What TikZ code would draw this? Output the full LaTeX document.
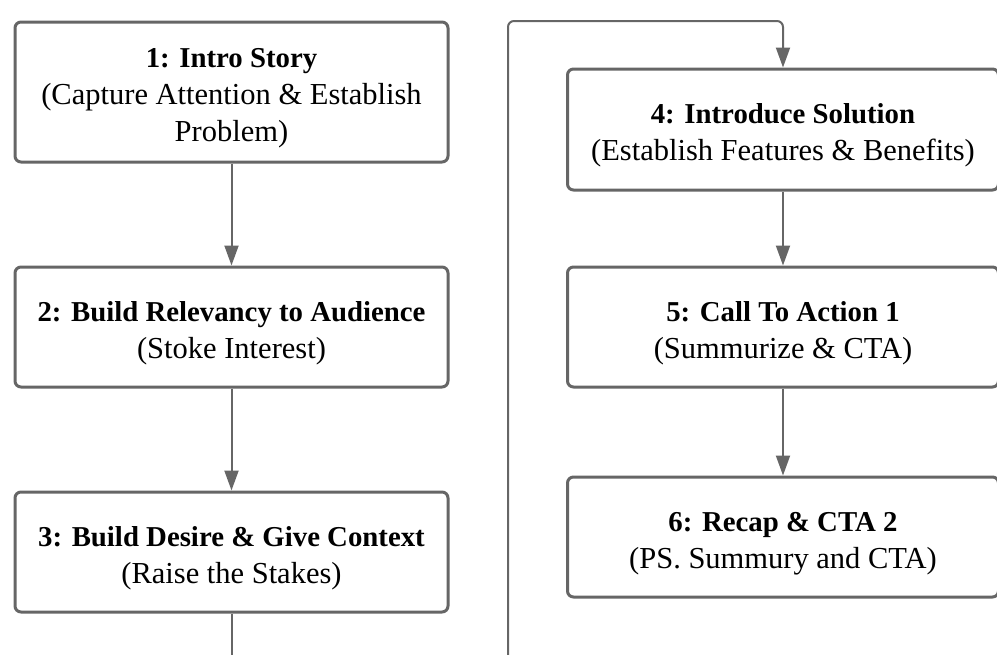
\documentclass[tikz,border=0pt]{standalone}
\usepackage{fontspec}
\setmainfont{Liberation Serif}
\usetikzlibrary{arrows.meta}
\definecolor{edge}{HTML}{666666}
\newcommand\boxhead[1]{\rule{0pt}{32pt}{\fontsize{28.8}{37}\selectfont\bfseries #1}}
\tikzset{
  stepbox/.style={draw=edge, line width=3pt, rounded corners=6pt, fill=white,
    minimum width=433pt, inner sep=0pt, align=center,
    font=\fontsize{30.5}{37}\selectfont},
  link/.style={draw=edge, line width=2pt},
  tip/.style={-{Triangle[length=20pt,width=14pt]}}
}
\begin{document}
\begin{tikzpicture}[x=1pt,y=-1pt]
\useasboundingbox (0,0) rectangle (997,654);
\clip (0,0) rectangle (997,654);
\node[stepbox, minimum height=140pt] (b1) at (231.5,92)
  {\boxhead{1: Intro Story}\\(Capture Attention \& Establish\\Problem)};
\node[stepbox, minimum height=120pt] (b2) at (231.5,327)
  {\boxhead{2: Build Relevancy to Audience}\\(Stoke Interest)};
\node[stepbox, minimum height=120pt] (b3) at (231.5,552)
  {\boxhead{3: Build Desire \& Give Context}\\(Raise the Stakes)};
\node[stepbox, minimum width=431pt, minimum height=121pt] (b4) at (783,129.5)
  {\boxhead{4: Introduce Solution}\\(Establish Features \& Benefits)};
\node[stepbox, minimum width=431pt, minimum height=120pt] (b5) at (783,327)
  {\boxhead{5: Call To Action 1}\\(Summurize \& CTA)};
\node[stepbox, minimum width=431pt, minimum height=120pt] (b6) at (783,537)
  {\boxhead{6: Recap \& CTA 2}\\(PS. Summury and CTA)};
\coordinate (bot) at (232,664);
\coordinate (up) at (508,664);
\coordinate (top) at (0,21);
\draw[link, tip] (b1.south) -- (b2.north);
\draw[link, tip] (b2.south) -- (b3.north);
\draw[link] (b3.south) -- (b3.south |- bot);
\draw[link, tip, rounded corners=6pt] (up) |- (b4.north |- top) -- (b4.north);
\draw[link, tip] (b4.south) -- (b5.north);
\draw[link, tip] (b5.south) -- (b6.north);
\end{tikzpicture}
\end{document}
